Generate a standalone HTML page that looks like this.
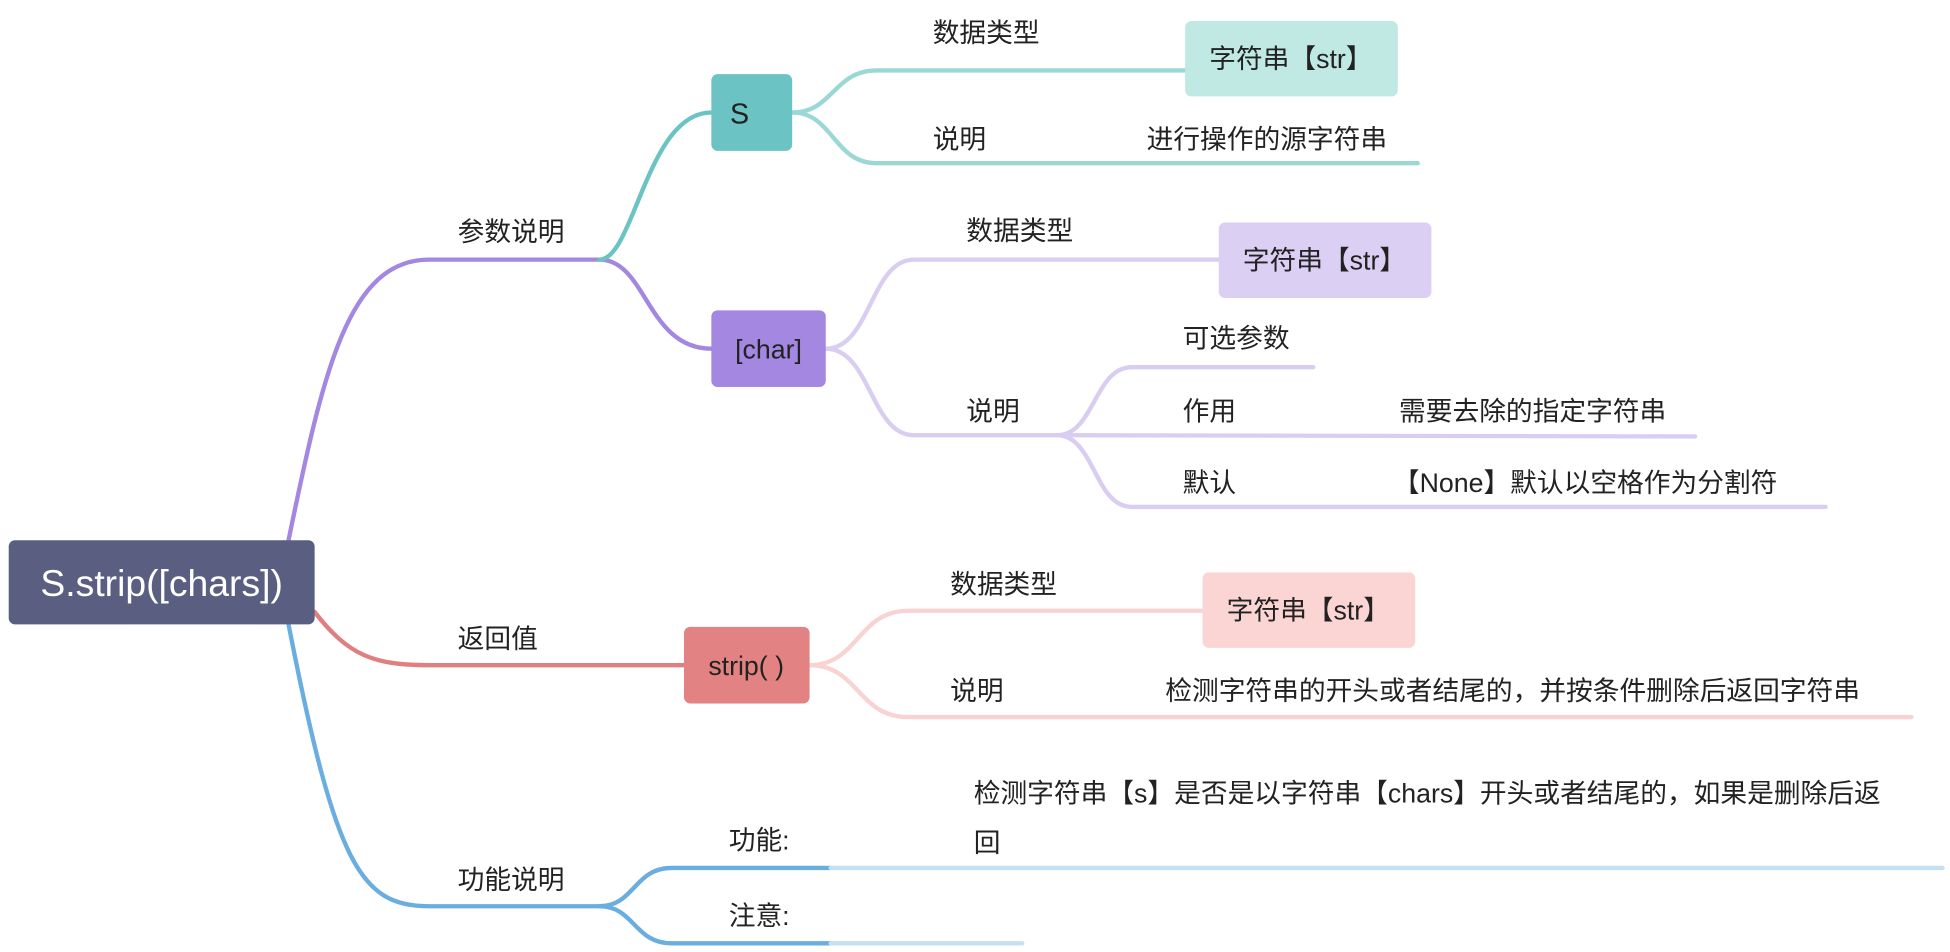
<!DOCTYPE html>
<html><head><meta charset="utf-8"><style>
html,body{margin:0;padding:0;background:#fff;}
svg{display:block}
text{font-family:"Liberation Sans","Noto Sans CJK SC",sans-serif;fill:#222;font-size:21.5px}
</style></head><body>
<svg width="1950" height="952" viewBox="0 0 1568 770" preserveAspectRatio="none" xmlns="http://www.w3.org/2000/svg">
<g fill="none" stroke-linecap="round" stroke-width="3.5">
<path d="M232,437 C260,300 280,210 345,210 L482,210" stroke="#a387e0"/>
<path d="M482,210 C520,210 520,282 572,282" stroke="#a387e0"/>
<path d="M482,210 C510,210 520,91 572,91" stroke="#6cc3c3"/>
<g stroke="#9bd8d5">
<path d="M637,91 C670,91 670,57 705,57 L953,57"/>
<path d="M637,91 C670,91 670,132 705,132 L1140,132"/>
</g>
<g stroke="#d9cef2">
<path d="M664,282 C700,282 700,210 735,210 L980,210"/>
<path d="M664,282 C700,282 700,352 735,352 L850,352"/>
<path d="M850,352 C880,352 880,297 910,297 L1056,297"/>
<path d="M850,352 L1363,353"/>
<path d="M850,352 C880,352 880,410 910,410 L1468,410"/>
</g>
<path d="M253,495 C280,530 300,538 345,538 L550,538" stroke="#e07f7f"/>
<g stroke="#f8d3d1">
<path d="M651,538 C690,538 690,494 730,494 L967,494"/>
<path d="M651,538 C690,538 690,580 730,580 L1537,580"/>
</g>
<path d="M232,505 C270,700 290,733 345,733 L482,733" stroke="#6aaee0"/>
<path d="M482,733 C510,733 510,702 540,702 L668,702" stroke="#6aaee0"/>
<path d="M482,733 C510,733 510,763 540,763 L668,763" stroke="#6aaee0"/>
<path d="M668,702 L1562,702" stroke="#c5e0f3"/>
<path d="M668,763 L822,763" stroke="#c5e0f3"/>
</g>
<rect x="7" y="437" width="246" height="68" rx="5" fill="#5a5f82"/>
<text x="130" y="482" text-anchor="middle" style="fill:#fff;font-size:30px">S.strip([chars])</text>
<rect x="572" y="60" width="65" height="62" rx="5" fill="#6cc3c3"/>
<text x="587" y="100" style="font-size:23px">S</text>
<rect x="572" y="251" width="92" height="62" rx="5" fill="#a387e0"/>
<text x="618" y="290" text-anchor="middle">[char]</text>
<rect x="550" y="507" width="101" height="62" rx="5" fill="#e38282"/>
<text x="600" y="546" text-anchor="middle">strip( )</text>
<rect x="953" y="17" width="171" height="61" rx="5" fill="#bfe9e2"/>
<text x="1038" y="55" text-anchor="middle">字符串【str】</text>
<rect x="980" y="180" width="171" height="61" rx="5" fill="#dccff4"/>
<text x="1065" y="218" text-anchor="middle">字符串【str】</text>
<rect x="967" y="463" width="171" height="61" rx="5" fill="#fbd5d3"/>
<text x="1052" y="501" text-anchor="middle">字符串【str】</text>
<text x="368" y="195">参数说明</text>
<text x="368" y="524">返回值</text>
<text x="368" y="719">功能说明</text>
<text x="750" y="34">数据类型</text>
<text x="750" y="120">说明</text>
<text x="922" y="120">进行操作的源字符串</text>
<text x="777" y="194">数据类型</text>
<text x="777" y="340">说明</text>
<text x="951" y="281">可选参数</text>
<text x="951" y="340">作用</text>
<text x="1125" y="340">需要去除的指定字符串</text>
<text x="951" y="398">默认</text>
<text x="1120" y="398">【None】默认以空格作为分割符</text>
<text x="764" y="480">数据类型</text>
<text x="764" y="566">说明</text>
<text x="937" y="566">检测字符串的开头或者结尾的，并按条件删除后返回字符串</text>
<text x="586" y="687">功能:</text>
<text x="586" y="748">注意:</text>
<text x="783" y="649">检测字符串【s】是否是以字符串【chars】开头或者结尾的，如果是删除后返</text>
<text x="783" y="689">回</text>
</svg>
</body></html>
